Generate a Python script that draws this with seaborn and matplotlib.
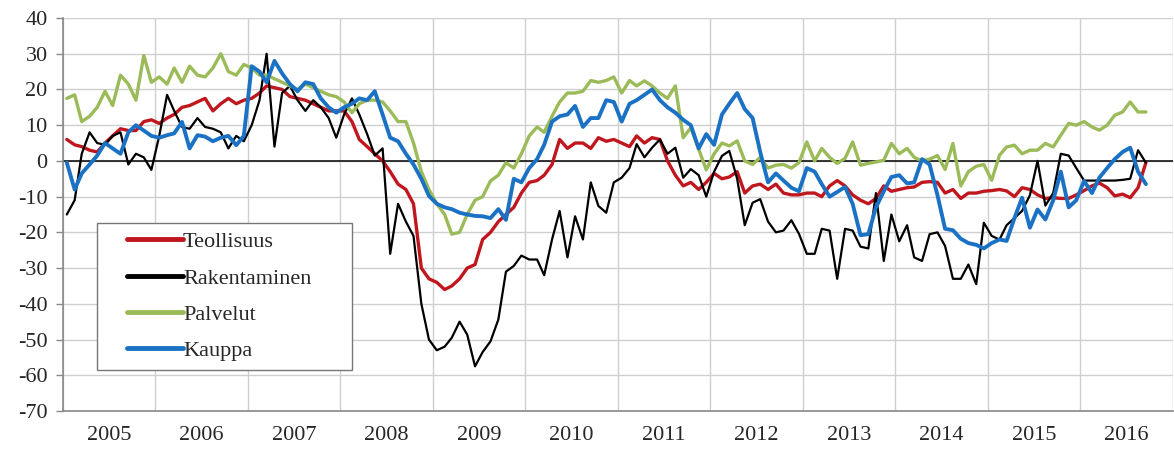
import numpy as np
import pandas as pd
import matplotlib
matplotlib.use("Agg")
import matplotlib.pyplot as plt
from matplotlib.legend_handler import HandlerLine2D
import seaborn as sns

# Monthly balance figures, Jan 2005 - Sep 2016
teollisuus = [
    6, 4.5, 4, 3, 2.5, 5, 7, 9, 8.5, 8.5, 11, 11.5,                       # 2005
    10.5, 12, 13, 15, 15.5, 16.5, 17.5, 14, 16, 17.5, 16, 17,             # 2006
    17.5, 19, 21, 20.5, 20, 18, 17.5, 17, 16, 15, 14, 14,                 # 2007
    14, 11, 6, 4, 2, 0, -3, -6.5, -8, -12, -30, -33,                      # 2008
    -34, -36, -35, -33, -30, -29, -22, -20, -17, -15, -13, -9,            # 2009
    -6, -5.5, -4, -1, 6, 3.5, 5, 5, 3.5, 6.5, 5.5, 6,                     # 2010
    5, 4, 7, 5, 6.5, 6, 0, -4, -7, -6, -8, -6,                            # 2011
    -3.5, -5, -4.5, -3, -9, -7, -6.5, -8, -6.5, -9, -9.5, -9.5,           # 2012
    -9, -9, -10, -7, -5.5, -7, -9.5, -11, -12, -10.5, -7, -8.5,           # 2013
    -8, -7.5, -7.3, -6, -5.8, -6, -9, -8, -10.5, -9, -9, -8.5,            # 2014
    -8.3, -8, -8.4, -10, -7.5, -8, -9.5, -10.5, -10.3, -10.5, -10.5, -9.5,  # 2015
    -8.3, -7, -6.2, -7.5, -9.8, -9.3, -10.3, -7.5, -0.5,                  # 2016
]
rakentaminen = [
    -15, -11, 2, 8, 5, 4.5, 7, 8, -1, 2, 1, -2.5,
    7, 18.5, 14, 9.5, 9, 12, 9.5, 9, 8, 3.5, 7, 5.5,
    10, 17, 30, 4, 19, 21, 17, 14, 17, 15, 12, 6.5,
    13, 17.5, 13, 7.5, 1.5, 3.5, -26, -12, -17, -21, -40, -50,
    -53, -52, -49.5, -45, -48.6, -57.5, -53.5, -50.5, -44.4, -31, -29.4, -26.5,
    -27.6, -27.6, -32, -22, -14, -27, -15.5, -22, -6, -12.6, -14.5, -6,
    -4.7, -2, 4.7, 1, 3.7, 6, 2, 3.7, -4.7, -2.3, -4, -10,
    -3, 1.4, 2.8, -5, -18, -11.7, -10.7, -17, -20, -19.5, -16.6, -20.4,
    -26, -26, -19, -19.5, -33, -19, -19.5, -24, -24.5, -9, -28, -15,
    -22.5, -18, -27, -28, -20.5, -20, -23.8, -33, -33, -29, -34.5, -17.3,
    -21, -22, -18, -16, -14, -9.6, 0, -12.5, -9, 2, 1.5, -2,
    -5.5, -5.5, -5.5, -5.5, -5.5, -5.3, -5, 3, -0.5,
]
palvelut = [
    17.5, 18.5, 11, 12.5, 15, 19.5, 15.5, 24, 21.5, 17, 29.5, 22,
    23.5, 21.5, 26, 22, 26.5, 24, 23.5, 26, 30, 25, 24, 27,
    26, 24, 24, 23, 22, 21, 20, 21.5, 20.5, 19.5, 18.5, 18,
    16.5, 13.5, 16, 17, 17, 16.5, 14, 11, 11, 5, -3, -8,
    -12, -15, -20.5, -20, -15, -11, -10, -5.6, -4, -0.5, -2, 2,
    7, 9.5, 8, 12.5, 16.5, 19, 19, 19.5, 22.5, 22, 22.5, 23.5,
    19, 22.5, 21, 22.4, 21, 19, 17.5, 21, 6.5, 9.3, 3.3, -2.5,
    2, 5, 4.2, 5.6, 0, -1, 1, -2, -1.2, -1, -2, -0.5,
    5.3, 0, 3.5, 1, -0.7, 0.7, 5.3, -1.2, -0.7, -0.3, 0.2, 4.9,
    2, 3.5, 1, 0, 0.5, 1.5, -2.4, 4.9, -7, -3, -1.5, -1,
    -5.4, 1.6, 3.9, 4.4, 2, 3, 3, 4.9, 3.9, 7.2, 10.5, 10,
    11, 9.5, 8.6, 10, 12.8, 13.7, 16.5, 13.7, 13.7,
]
kauppa = [
    -0.5, -8, -3.5, -1, 1.5, 5, 3.5, 2, 8, 10, 8.5, 7,
    6.5, 7.2, 7.7, 10.9, 3.5, 7.2, 6.8, 5.5, 6.5, 7, 4.4, 7,
    26.5, 25, 22, 28, 24.5, 21.5, 19.5, 22, 21.5, 17.5, 15, 13.5,
    15, 16, 17.5, 17, 19.5, 13, 6.5, 5.5, 2, -1, -5, -9.8,
    -12, -13, -13.5, -14.5, -15, -15.4, -15.5, -16, -13.5, -16.5, -5, -6,
    -2, 0.5, 4.5, 11, 12.5, 13, 15.4, 9.5, 12, 12, 17, 16.5,
    11, 16, 17, 18.5, 20, 17, 15, 13.5, 11.5, 10, 3.5, 7.5,
    4.5, 13, 16, 19, 14.5, 12, 2.5, -6, -3.5, -5.5, -7.5, -8.5,
    -2, -3, -6.5, -10, -8.7, -7.3, -12, -20.8, -20.5, -13, -8.5, -4.5,
    -4, -6.3, -6, 0.5, -1, -9.6, -19, -19.4, -21.8, -23, -23.5, -24.5,
    -23, -22, -22.4, -16, -10.3, -18.7, -13.6, -16.4, -11, -3, -13, -11,
    -5.6, -9, -4.7, -2, 0.5, 2.5, 3.7, -3, -6.5,
]

series_names = ["Teollisuus", "Rakentaminen", "Palvelut", "Kauppa"]
series_values = [teollisuus, rakentaminen, palvelut, kauppa]
series_colors = ["#c0161e", "#000000", "#9bbb59", "#1b72c4"]
series_widths = [2.4, 1.6, 2.4, 2.8]
year_labels = [str(y) for y in range(2005, 2017)]

months = pd.date_range("2005-01-01", periods=len(teollisuus), freq="MS") + pd.Timedelta(days=15)

sns.set_theme(style="whitegrid")
plt.rcParams["font.family"] = ["Liberation Serif", "DejaVu Serif"]
plt.rcParams["axes.unicode_minus"] = False

FS = 16

fig = plt.figure(figsize=(11.74, 4.5), dpi=100)
ax = fig.add_axes([63 / 1174, 1 - 411 / 450, 1110 / 1174, 393 / 450])

ax.axhline(0, color="black", lw=1.1, zorder=1.5)
for name, vals, col, lw in zip(series_names, series_values, series_colors, series_widths):
    df = pd.DataFrame({"date": months, "value": vals})
    sns.lineplot(data=df, x="date", y="value", ax=ax, color=col, linewidth=lw,
                 label=name, zorder=3)

ax.set_ylim(-70, 40)
ax.set_yticks(np.arange(-70, 41, 10))
ax.set_xlim(pd.Timestamp("2005-01-01"), pd.Timestamp("2017-01-01"))
ax.set_xticks([pd.Timestamp(f"{y}-01-01") for y in range(2005, 2018)])
ax.set_xticklabels([])
ax.set_xticks([pd.Timestamp(f"{y}-07-02") for y in range(2005, 2017)], minor=True)
ax.set_xticklabels(year_labels, minor=True)
ax.tick_params(axis="x", which="both", length=0, pad=11, labelsize=FS)
ax.tick_params(axis="y", length=5, width=1, color="#888888", pad=6, labelsize=FS, left=True)
ax.set_xlabel("")
ax.set_ylabel("")

ax.grid(True, which="major", color="#cfcfcf", lw=1)
ax.grid(False, which="minor")
for s in ["top", "right"]:
    ax.spines[s].set_visible(False)
for s in ["left", "bottom"]:
    ax.spines[s].set_color("#888888")
    ax.spines[s].set_linewidth(1.2)


class PaddedLineHandler(HandlerLine2D):
    """Draw the legend line only on the right part of the handle area."""
    def __init__(self, lead=15, **kw):
        super().__init__(**kw)
        self.lead = lead

    def create_artists(self, legend, orig_handle, xdescent, ydescent, width,
                       height, fontsize, trans):
        arts = super().create_artists(legend, orig_handle, xdescent, ydescent,
                                      width, height, fontsize, trans)
        for a in arts:
            xd = np.asarray(a.get_xdata(), dtype=float)
            if len(xd) >= 2:
                a.set_xdata(np.linspace(xd[0] + self.lead, xd[-1], len(xd)))
            a.set_linewidth(3.5)
        return arts


handles, labels = ax.get_legend_handles_labels()
leg = ax.legend(handles, labels, loc="lower left",
                bbox_to_anchor=(0.031, 0.104, 0.229, 0.0), mode="expand",
                fontsize=FS, frameon=True, fancybox=False, shadow=False,
                handlelength=3.45, handletextpad=0.0, labelspacing=0.71,
                borderpad=0.4, borderaxespad=0,
                handler_map={h: PaddedLineHandler(lead=15) for h in handles})
leg.get_frame().set_edgecolor("#777777")
leg.get_frame().set_linewidth(1.0)
leg.get_frame().set_alpha(1)

fig.savefig("out.png", dpi=100, facecolor="white")
